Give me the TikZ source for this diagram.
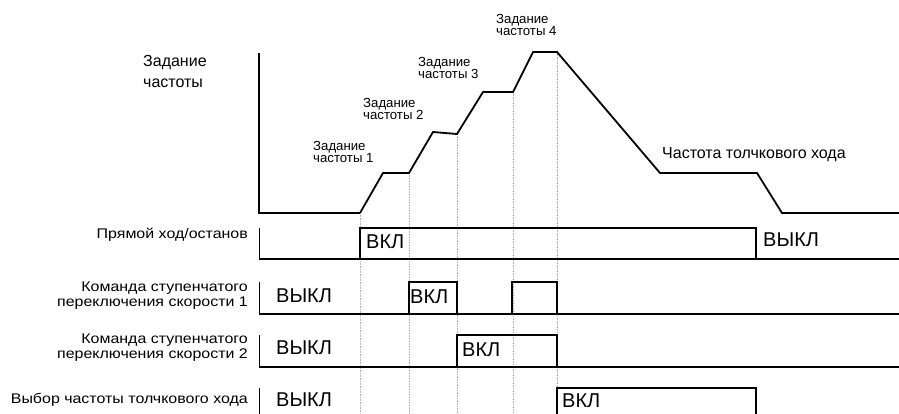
\documentclass[tikz,border=0pt]{standalone}
\usepackage{fontspec}
\setmainfont{Liberation Sans}
\newfontfamily\widefont[FakeStretch=1.14]{Liberation Sans}
\begin{document}
\begin{tikzpicture}[x=1pt,y=-1pt,
  sig/.style={line width=1.6pt, line join=miter},
  prof/.style={line width=1.8pt, line join=miter},
  axisline/.style={line width=1.1pt},
  guide/.style={gray!60, densely dotted, line width=0.6pt},
  lbl/.style={font=\widefont\fontsize{14}{15}\selectfont, align=right, anchor=east, inner sep=0pt},
  small/.style={font=\fontsize{13.2}{12.5}\selectfont, align=left, anchor=north west, inner sep=0pt},
  state/.style={font=\fontsize{20}{22}\selectfont, anchor=west, inner sep=0pt}]
\useasboundingbox (0,0) rectangle (899,414);

% frequency profile
\coordinate (o) at (259,213);
\coordinate (top) at (259,53);
\coordinate (p0) at (360,213);
\coordinate (p1) at (383,173);
\coordinate (p2) at (409,173);
\coordinate (p3) at (433,132);
\coordinate (p4) at (457,134);
\coordinate (p5) at (483,92);
\coordinate (p6) at (513,92);
\coordinate (p7) at (533,52);
\coordinate (p8) at (557,52);
\coordinate (p9) at (660,173);
\coordinate (p10) at (757,173);
\coordinate (p11) at (782,213);
\coordinate (pend) at (899,213);

% guides
\foreach \g in {p0,p2,p4,p6,p8} {
  \coordinate (\g b) at (\g |- 0,414);
  \draw[guide] (\g) -- (\g b);
}

\draw[axisline] (top) -- (o) -- (p0);
\draw[prof] (p0) -- (p1) -- (p2) -- (p3) -- (p4) -- (p5) -- (p6) -- (p7) -- (p8) -- (p9) -- (p10) -- (p11) -- (pend);

\node[font=\fontsize{16}{21}\selectfont, align=left, anchor=north west, inner sep=0pt] (fz) at (143,55) {Задание\\частоты};
\node[small] (f1) at (313,141) {Задание\\частоты 1};
\node[small] (f2) at (363,98) {Задание\\частоты 2};
\node[small] (f3) at (418,57) {Задание\\частоты 3};
\node[small] (f4) at (496,14) {Задание\\частоты 4};
\node[font=\fontsize{16}{18}\selectfont, anchor=west, inner sep=0pt] (fj) at (662,155) {Частота толчкового хода};

% row 1
\coordinate (a0) at (259,228);
\coordinate (a1) at (259,259);
\coordinate (a2) at (360,259);
\coordinate (a3) at (360,228);
\coordinate (a4) at (756,228);
\coordinate (a5) at (756,259);
\coordinate (a6) at (899,259);
\draw[axisline, line width=0.8pt] (a0) -- (a1);
\draw[sig] (a1) -- (a6);
\draw[sig] (a2) -- (a3) -- (a4) -- (a5);
\node[lbl] (l1) at (248,235) {Прямой ход/останов};
\node[state] (s1a) at (366,242) {ВКЛ};
\node[state] (s1b) at (763,240) {ВЫКЛ};

% row 2
\coordinate (b0) at (259,282);
\coordinate (b1) at (259,314);
\coordinate (b2) at (409,314);
\coordinate (b3) at (409,282);
\coordinate (b4) at (457,282);
\coordinate (b5) at (457,314);
\coordinate (b6) at (512,314);
\coordinate (b7) at (512,282);
\coordinate (b8) at (557,282);
\coordinate (b9) at (557,314);
\coordinate (b10) at (899,314);
\draw[axisline, line width=0.8pt] (b0) -- (b1);
\draw[sig] (b1) -- (b10);
\draw[sig] (b2) -- (b3) -- (b4) -- (b5);
\draw[sig] (b6) -- (b7) -- (b8) -- (b9);
\node[lbl] (l2) at (248,296) {Команда ступенчатого\\переключения скорости 1};
\node[state] (s2a) at (276,296) {ВЫКЛ};
\node[state] (s2b) at (410,297) {ВКЛ};

% row 3
\coordinate (c0) at (259,335);
\coordinate (c1) at (259,367);
\coordinate (c2) at (457,367);
\coordinate (c3) at (457,335);
\coordinate (c4) at (557,335);
\coordinate (c5) at (557,367);
\coordinate (c6) at (899,367);
\draw[axisline, line width=0.8pt] (c0) -- (c1);
\draw[sig] (c1) -- (c6);
\draw[sig] (c2) -- (c3) -- (c4) -- (c5);
\node[lbl] (l3) at (248,348) {Команда ступенчатого\\переключения скорости 2};
\node[state] (s3a) at (276,348) {ВЫКЛ};
\node[state] (s3b) at (462,350) {ВКЛ};

% row 4
\coordinate (d0) at (259,388);
\coordinate (d1) at (259,414);
\coordinate (d2) at (557,414);
\coordinate (d3) at (557,388);
\coordinate (d4) at (756,388);
\coordinate (d5) at (756,414);
\draw[axisline, line width=0.8pt] (d0) -- (d1);
\draw[sig] (d2) -- (d3) -- (d4) -- (d5);
\node[lbl] (l4) at (248,400) {Выбор частоты толчкового хода};
\node[state] (s4a) at (276,400) {ВЫКЛ};
\node[state] (s4b) at (562,401) {ВКЛ};
\end{tikzpicture}
\end{document}
